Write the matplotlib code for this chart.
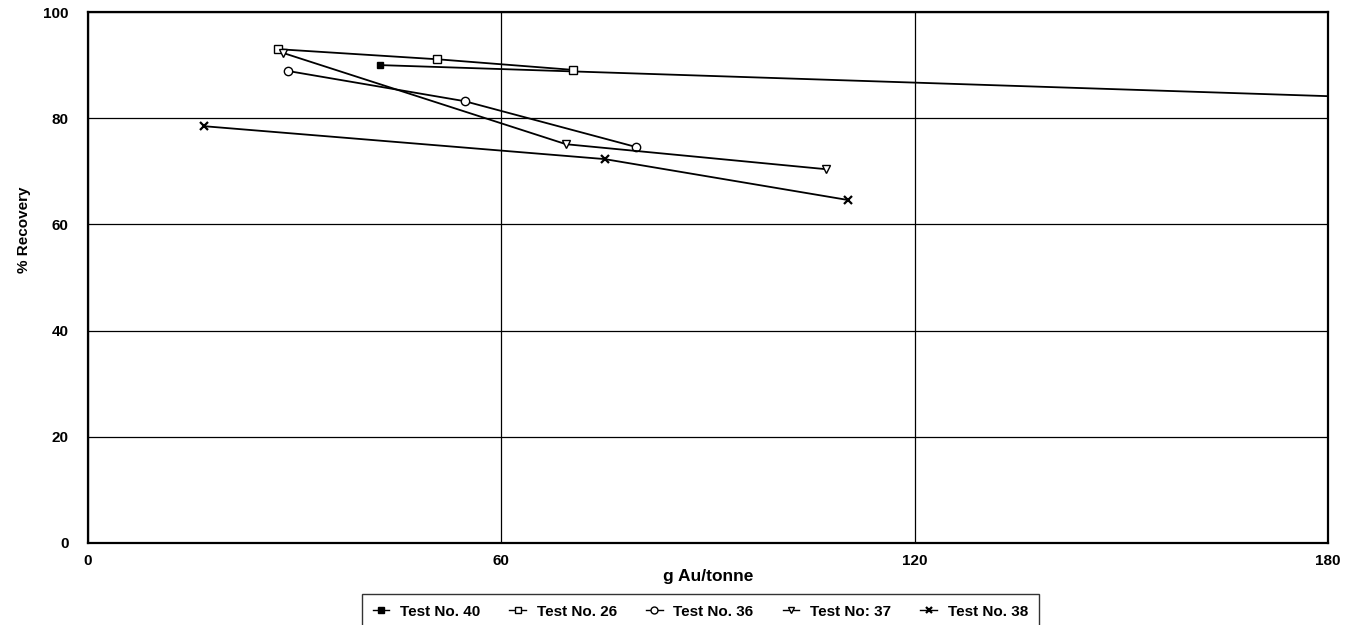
import matplotlib
matplotlib.use("Agg")
import matplotlib.pyplot as plt
from matplotlib.lines import Line2D

plt.rcParams['font.family'] = ['Liberation Sans', 'DejaVu Sans']
plt.rcParams['font.weight'] = 'bold'

# Gold grade (g Au/tonne) vs. recovery (%) for each test
t40_x = [42.4, 240.0]
t40_y = [90.0, 81.6]
t26_x = [27.6, 50.7, 70.4]
t26_y = [93.0, 91.1, 89.1]
t36_x = [29.0, 54.7, 79.5]
t36_y = [88.9, 83.2, 74.6]
t37_x = [28.3, 69.4, 107.1]
t37_y = [92.3, 75.1, 70.4]
t38_x = [16.8, 75.0, 110.3]
t38_y = [78.5, 72.3, 64.6]

labels = ["Test No. 40", "Test No. 26", "Test No. 36", "Test No: 37", "Test No. 38"]
x_ticks = [0, 60, 120, 180]
y_ticks = [0, 20, 40, 60, 80, 100]

fig = plt.figure(figsize=(13.57, 6.25), dpi=100)
ax = fig.add_axes([0.0648, 0.1312, 0.9138, 0.8496])

series = [
    (t40_x, t40_y, dict(marker='s', markersize=5, markerfacecolor='black')),
    (t26_x, t26_y, dict(marker='s', markersize=6, markerfacecolor='white')),
    (t36_x, t36_y, dict(marker='o', markersize=6, markerfacecolor='white')),
    (t37_x, t37_y, dict(marker='v', markersize=6, markerfacecolor='white')),
    (t38_x, t38_y, dict(marker='x', markersize=6, markeredgewidth=1.6)),
]

handles = []
for (xs, ys, style), lab in zip(series, labels):
    ax.plot(xs, ys, color='black', linewidth=1.3, markeredgecolor='black',
            clip_on=True, **style)
    leg_style = dict(style)
    leg_style['markersize'] = style['markersize'] - 1
    handles.append(Line2D([], [], color='black', linewidth=1.0,
                          markeredgecolor='black', label=lab, **leg_style))

ax.set_xlim(0, 180)
ax.set_ylim(0, 100)
ax.set_xticks(x_ticks)
ax.set_yticks(y_ticks)
ax.tick_params(axis='y', length=0, labelsize=11, pad=14)
ax.tick_params(axis='x', length=0, labelsize=11, pad=8)
for lbl in ax.get_xticklabels() + ax.get_yticklabels():
    lbl.set_fontweight('bold')
ax.grid(True, color='black', linewidth=0.9)
for s in ax.spines.values():
    s.set_linewidth(1.6)

ax.set_xlabel("g Au/tonne", fontsize=12.5, fontweight='bold', labelpad=1)
ax.set_ylabel("% Recovery", fontsize=11, fontweight='bold')
ax.yaxis.set_label_coords(-0.046, 0.589)

leg = fig.legend(handles=handles, loc='upper center', ncol=5,
                 bbox_to_anchor=(0.516, 0.0496), borderaxespad=0,
                 frameon=True, fancybox=False,
                 edgecolor='black', fontsize=11, handlelength=1.1,
                 handletextpad=0.7, columnspacing=1.9, borderpad=0.7)
leg.get_frame().set_linewidth(1.0)
for t in leg.get_texts():
    t.set_fontweight('bold')

fig.savefig("out.png", dpi=100)
